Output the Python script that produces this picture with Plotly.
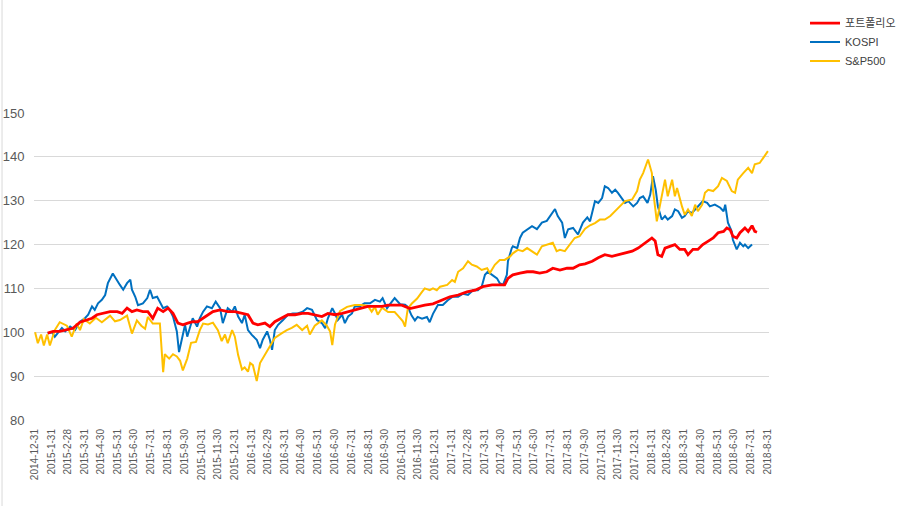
import plotly.graph_objects as go
import pandas as pd

# ---------------- data ----------------
port_dates = ["2015-01-23","2015-02-02","2015-02-14","2015-02-27","2015-03-10","2015-03-23","2015-04-05","2015-04-14","2015-04-23","2015-05-04",
"2015-05-17","2015-05-30","2015-06-08","2015-06-17","2015-06-26","2015-07-05","2015-07-16","2015-07-25","2015-08-03","2015-08-12",
"2015-08-22","2015-08-31","2015-09-09","2015-09-18","2015-09-27","2015-10-06","2015-10-15","2015-10-24","2015-11-03","2015-11-12",
"2015-11-21","2015-12-04","2015-12-18","2015-12-31","2016-01-13","2016-01-24","2016-02-02","2016-02-11","2016-02-24","2016-03-04",
"2016-03-13","2016-03-26","2016-04-06","2016-04-19","2016-05-02","2016-05-13","2016-05-25","2016-06-07","2016-06-18","2016-07-01",
"2016-07-14","2016-07-25","2016-08-06","2016-08-19","2016-08-30","2016-09-12","2016-09-25","2016-10-06","2016-10-18","2016-10-31",
"2016-11-15","2016-11-28","2016-12-12","2016-12-27","2017-01-12","2017-01-27","2017-02-11","2017-02-27","2017-03-14","2017-03-28",
"2017-04-14","2017-04-28","2017-05-07","2017-05-13","2017-05-22","2017-06-04","2017-06-17","2017-06-28","2017-07-10","2017-07-23",
"2017-08-03","2017-08-16","2017-08-29","2017-09-09","2017-09-21","2017-10-01","2017-10-14","2017-10-25","2017-11-06","2017-11-19",
"2017-11-30","2017-12-13","2017-12-26","2018-01-06","2018-01-19","2018-01-31","2018-02-06","2018-02-11","2018-02-18","2018-02-24",
"2018-03-05","2018-03-14","2018-03-23","2018-04-01","2018-04-07","2018-04-16","2018-04-25","2018-05-04","2018-05-14","2018-05-23",
"2018-06-01","2018-06-11","2018-06-17","2018-06-23","2018-06-28","2018-07-05","2018-07-11","2018-07-20","2018-07-26","2018-08-02",
"2018-08-07","2018-08-11"]
port_values = [99.8,100.2,100.2,100.5,100.9,102.3,102.8,103.2,104.0,104.3,
104.7,104.7,104.3,105.5,104.7,105.1,104.7,104.7,103.2,105.5,
104.7,105.5,104.3,102.1,101.7,102.1,102.4,102.4,103.2,104.0,
104.7,105.1,104.7,104.7,104.3,104.0,102.1,101.7,102.1,101.3,
102.4,103.2,104.0,104.0,104.3,104.3,104.0,103.6,104.3,104.0,
104.3,104.7,105.1,105.5,105.9,105.9,105.9,106.2,106.2,106.2,
105.4,105.8,106.2,106.5,107.3,108.1,108.5,109.2,109.6,110.4,
110.8,110.8,110.8,112.3,113.1,113.5,113.8,113.8,113.5,113.8,
114.6,114.2,114.6,114.6,115.4,115.6,116.2,117.0,117.7,117.3,
117.7,118.1,118.5,119.2,120.4,121.5,120.8,117.7,117.3,119.2,
119.6,120.0,118.9,118.9,117.7,118.9,118.9,120.0,120.8,121.5,
122.7,123.0,123.8,123.4,121.9,121.5,122.7,123.8,123.0,124.3,
123.0,122.8]

kospi_dates = ["2015-01-23","2015-01-31","2015-02-05","2015-02-11","2015-02-18","2015-02-24","2015-03-05","2015-03-14","2015-03-23","2015-04-01",
"2015-04-07","2015-04-14","2015-04-19","2015-04-25","2015-05-02","2015-05-08","2015-05-13","2015-05-22","2015-05-30","2015-06-04",
"2015-06-10","2015-06-17","2015-06-23","2015-06-26","2015-07-02","2015-07-07","2015-07-16","2015-07-24","2015-07-29","2015-08-03",
"2015-08-11","2015-08-16","2015-08-22","2015-08-29","2015-09-03","2015-09-09","2015-09-16","2015-09-20","2015-09-25","2015-10-01",
"2015-10-05","2015-10-10","2015-10-15","2015-10-23","2015-10-28","2015-11-03","2015-11-10","2015-11-19","2015-11-26","2015-12-04",
"2015-12-09","2015-12-18","2015-12-26","2015-12-31","2016-01-06","2016-01-13","2016-01-18","2016-01-24","2016-01-31","2016-02-09",
"2016-02-15","2016-02-20","2016-02-28","2016-03-04","2016-03-08","2016-03-13","2016-03-19","2016-03-28","2016-04-06","2016-04-15",
"2016-04-24","2016-05-03","2016-05-11","2016-05-20","2016-05-29","2016-06-07","2016-06-13","2016-06-18","2016-06-26","2016-07-01",
"2016-07-06","2016-07-14","2016-07-19","2016-07-25","2016-08-01","2016-08-06","2016-08-15","2016-08-24","2016-09-03","2016-09-12",
"2016-09-21","2016-09-26","2016-10-04","2016-10-13","2016-10-18","2016-10-28","2016-11-06","2016-11-11","2016-11-18","2016-11-24",
"2016-11-29","2016-12-07","2016-12-16","2016-12-21","2016-12-27","2017-01-05","2017-01-14","2017-01-23","2017-02-01","2017-02-11",
"2017-02-20","2017-03-01","2017-03-10","2017-03-19","2017-03-26","2017-04-01","2017-04-06","2017-04-14","2017-04-23","2017-04-28",
"2017-05-04","2017-05-11","2017-05-13","2017-05-20","2017-05-22","2017-05-30","2017-06-04","2017-06-09","2017-06-17","2017-06-26",
"2017-07-05","2017-07-14","2017-07-23","2017-07-29","2017-08-07","2017-08-12","2017-08-20","2017-08-25","2017-08-31","2017-09-09",
"2017-09-18","2017-09-27","2017-10-05","2017-10-10","2017-10-14","2017-10-19","2017-10-25","2017-11-01","2017-11-06","2017-11-12",
"2017-11-19","2017-11-25","2017-11-30","2017-12-08","2017-12-13","2017-12-19","2017-12-28","2018-01-04","2018-01-09","2018-01-15",
"2018-01-23","2018-01-28","2018-02-02","2018-02-07","2018-02-11","2018-02-18","2018-02-24","2018-03-01","2018-03-09","2018-03-14",
"2018-03-20","2018-03-27","2018-04-01","2018-04-07","2018-04-14","2018-04-23","2018-04-29","2018-05-04","2018-05-12","2018-05-17",
"2018-05-26","2018-06-05","2018-06-11","2018-06-14","2018-06-19","2018-06-26","2018-06-28","2018-07-05","2018-07-11","2018-07-17",
"2018-07-20","2018-07-26","2018-08-02"]
kospi_values = [99.8,100.0,99.0,100.0,101.0,100.2,101.3,100.5,102.4,103.2,
104.0,105.9,105.1,106.6,107.4,108.5,111.2,113.4,111.6,110.8,
109.7,111.2,112.0,109.7,108.1,106.2,106.6,107.8,109.7,107.8,
108.1,107.0,105.5,105.9,105.1,103.6,100.2,95.5,98.3,101.7,
99.0,101.3,103.2,101.3,103.2,104.7,105.9,105.5,107.0,105.5,
102.1,105.5,104.7,105.9,103.6,102.1,104.0,100.5,99.4,98.3,
96.4,98.3,100.2,98.3,96.0,100.5,101.7,102.8,104.0,104.3,
104.3,104.7,105.5,105.1,102.8,102.1,100.9,103.2,105.5,104.3,
102.8,104.0,102.1,103.6,104.3,105.9,105.9,106.6,106.6,107.4,
107.0,107.8,105.5,107.0,107.8,106.4,106.3,105.8,103.8,102.7,
103.5,103.1,103.5,102.3,104.2,106.2,106.2,107.3,108.1,108.1,
108.8,108.5,109.6,109.6,110.4,113.1,113.8,113.1,112.3,111.2,
110.8,113.1,116.2,119.2,119.6,119.2,121.5,122.7,123.5,124.2,
123.5,125.0,125.4,126.5,128.1,126.5,125.0,121.5,123.5,123.8,
122.3,125.0,126.2,125.3,127.6,129.9,129.5,130.6,133.3,132.9,
131.8,132.5,131.8,130.3,129.5,129.9,128.7,129.5,130.6,131.0,
129.5,131.4,135.6,132.5,128.7,125.7,126.5,125.7,126.5,128.0,
127.6,126.1,126.5,127.6,127.2,128.4,129.1,129.9,129.5,128.7,
129.1,128.4,127.6,129.1,125.0,123.0,121.1,118.9,120.4,119.6,
120.0,119.2,120.0]

sp_dates = ["2014-12-31","2015-01-05","2015-01-11","2015-01-16","2015-01-22","2015-01-27","2015-02-05","2015-02-14","2015-02-27","2015-03-08",
"2015-03-17","2015-03-23","2015-03-30","2015-04-10","2015-04-21","2015-05-02","2015-05-17","2015-05-26","2015-06-04","2015-06-17",
"2015-06-26","2015-07-05","2015-07-13","2015-07-20","2015-07-25","2015-08-03","2015-08-16","2015-08-22","2015-08-25","2015-09-02",
"2015-09-09","2015-09-16","2015-09-22","2015-09-27","2015-10-05","2015-10-12","2015-10-21","2015-10-28","2015-11-03","2015-11-12",
"2015-11-21","2015-11-30","2015-12-07","2015-12-13","2015-12-18","2015-12-26","2015-12-31","2016-01-06","2016-01-13","2016-01-18",
"2016-01-24","2016-01-28","2016-02-02","2016-02-09","2016-02-15","2016-02-24","2016-03-04","2016-03-13","2016-03-26","2016-04-04",
"2016-04-13","2016-04-22","2016-05-02","2016-05-11","2016-05-16","2016-05-25","2016-06-07","2016-06-16","2016-06-22","2016-06-26",
"2016-07-01","2016-07-10","2016-07-23","2016-08-06","2016-08-19","2016-08-30","2016-09-06","2016-09-12","2016-09-17","2016-09-25",
"2016-10-06","2016-10-18","2016-10-24","2016-11-02","2016-11-06","2016-11-11","2016-11-18","2016-11-28","2016-12-07","2016-12-12",
"2016-12-21","2016-12-27","2017-01-03","2017-01-09","2017-01-22","2017-01-31","2017-02-05","2017-02-11","2017-02-20","2017-03-01",
"2017-03-08","2017-03-17","2017-03-26","2017-04-05","2017-04-10","2017-04-19","2017-04-28","2017-05-07","2017-05-17","2017-05-22",
"2017-05-31","2017-06-09","2017-06-17","2017-06-26","2017-07-05","2017-07-14","2017-07-23","2017-08-03","2017-08-10","2017-08-16",
"2017-08-25","2017-09-03","2017-09-12","2017-09-21","2017-10-01","2017-10-10","2017-10-19","2017-10-28","2017-11-06","2017-11-16",
"2017-11-25","2017-12-04","2017-12-13","2017-12-26","2018-01-04","2018-01-09","2018-01-15","2018-01-24","2018-01-31","2018-02-02",
"2018-02-06","2018-02-09","2018-02-15","2018-02-24","2018-03-01","2018-03-09","2018-03-14","2018-03-18","2018-03-27","2018-04-01",
"2018-04-07","2018-04-14","2018-04-20","2018-04-25","2018-05-03","2018-05-08","2018-05-14","2018-05-23","2018-06-01","2018-06-08",
"2018-06-17","2018-06-26","2018-07-02","2018-07-07","2018-07-17","2018-07-26","2018-08-02","2018-08-07","2018-08-16","2018-08-22",
"2018-08-31"]
sp_values = [100.0,97.5,99.5,97.0,99.5,97.0,100.5,102.3,101.5,99.0,
102.0,100.5,103.0,102.0,103.3,102.3,103.8,102.5,102.8,103.8,
99.7,102.7,101.5,100.8,103.5,102.0,102.0,90.9,95.0,94.0,
95.0,94.5,93.5,91.3,94.0,97.6,97.8,100.5,102.0,101.8,
102.2,100.5,98.0,99.5,97.5,100.5,99.0,94.8,91.5,92.0,
91.0,93.0,92.5,88.9,93.0,95.0,97.0,98.7,99.8,100.5,
101.0,101.7,100.5,101.5,99.5,101.5,102.7,101.5,100.2,97.1,
101.8,104.8,105.8,106.2,106.2,106.0,104.7,105.8,104.0,105.6,
104.6,104.6,103.8,102.5,101.3,105.4,106.5,107.7,109.2,110.0,
109.6,110.0,109.6,110.4,110.8,111.9,111.5,113.8,114.6,116.2,
115.4,115.0,114.2,114.6,113.5,115.4,116.5,116.5,117.3,118.0,
118.8,118.5,119.2,118.5,117.7,119.6,120.0,120.4,118.5,118.8,
118.5,120.0,121.5,121.9,123.6,124.4,124.9,125.7,125.7,126.5,
127.6,128.7,129.9,130.3,132.2,134.8,136.3,139.4,136.3,132.5,
127.6,125.3,129.1,134.8,131.0,134.8,131.0,132.9,128.7,126.8,
128.0,126.5,129.1,127.6,129.1,131.8,132.5,132.2,133.3,135.2,
134.5,132.2,131.8,134.8,136.3,137.5,136.3,138.3,138.6,139.8,
141.3]

series_names = ["포트폴리오", "KOSPI", "S&P500"]
series_colors = ["#FF0000", "#0070C0", "#FFC000"]

# month-end category ticks, labelled like the reference ("2015-1-31")
tick_dates = pd.date_range("2014-12-31", "2018-08-31", freq="ME")
tick_labels = [f"{d.year}-{d.month}-{d.day}" for d in tick_dates]
y_ticks = [80, 90, 100, 110, 120, 130, 140, 150]

# ---------------- figure ----------------
fig = go.Figure()
traces = [
    (kospi_dates, kospi_values, 1, 2.0, 2),
    (sp_dates, sp_values, 2, 2.0, 3),
    (port_dates, port_values, 0, 2.8, 1),
]
for xs, ys, idx, w, rank in traces:
    fig.add_trace(go.Scatter(
        x=pd.to_datetime(xs), y=ys, mode="lines", name=series_names[idx],
        line=dict(color=series_colors[idx], width=w),
        legendrank=rank, hoverinfo="skip"))

fig.update_layout(
    width=902, height=506,
    margin=dict(l=34, r=133, t=113, b=86, autoexpand=False),
    paper_bgcolor="white", plot_bgcolor="white",
    font=dict(family="Arial, Liberation Sans, Noto Sans CJK KR", color="#595959"),
    showlegend=True,
    legend=dict(x=1.049, y=1.34, xanchor="left", yanchor="top",
                font=dict(size=11, color="#404040"),
                bgcolor="rgba(0,0,0,0)", itemwidth=30, tracegroupgap=0),
)
fig.update_xaxes(
    automargin=False,
    range=["2014-12-29", "2018-09-02"],
    tickmode="array", tickvals=tick_dates, ticktext=tick_labels,
    tickangle=-90, tickfont=dict(size=10, color="#595959"),
    showgrid=False, showline=False, zeroline=False,
    ticks="outside", ticklen=4, tickcolor="rgba(0,0,0,0)",
)
fig.update_yaxes(
    automargin=False,
    range=[80, 150], tickmode="array", tickvals=y_ticks,
    tickfont=dict(size=13, color="#595959"),
    showgrid=True, gridcolor="#D9D9D9", gridwidth=1,
    zeroline=False, showline=False,
    ticks="outside", ticklen=6, tickcolor="rgba(0,0,0,0)",
)
# faint sheet edge on the far left
fig.add_shape(type="line", xref="paper", yref="paper",
              x0=-0.0435, x1=-0.0435, y0=-0.3, y1=1.4,
              line=dict(color="#D9D9D9", width=1))

# remove the page's default 8px body margin so the figure fills the window
fig.write_html("out.html",
               config={"displayModeBar": False, "staticPlot": True},
               post_script="document.body.style.margin='0';document.body.style.overflow='hidden';")
